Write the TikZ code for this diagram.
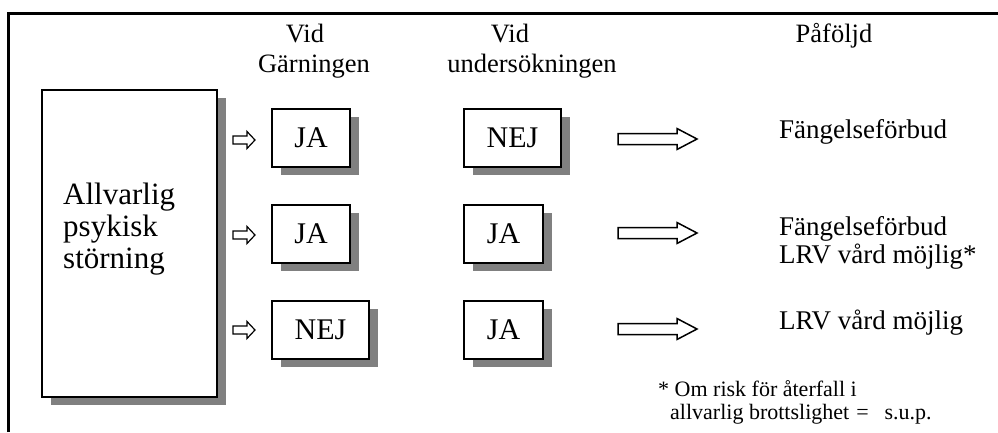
\documentclass[tikz,border=0pt]{standalone}
\usepackage{fontspec}
\setmainfont{Liberation Serif}
\usetikzlibrary{shadows}
\begin{document}
\begin{tikzpicture}[x=1pt,y=-1pt,
  box/.style={draw, line width=1.4pt, fill=white, inner sep=0pt, minimum height=58pt,
    font=\fontsize{30}{32}\selectfont,
    drop shadow={shadow xshift=8.5pt, shadow yshift=-7.5pt, fill=black!50, opacity=1}},
  head/.style={font=\fontsize{26.5}{30}\selectfont, anchor=base, inner sep=0pt},
  result/.style={font=\fontsize{27}{28}\selectfont, anchor=base west, inner sep=0pt},
  note/.style={font=\fontsize{22}{23}\selectfont, anchor=base west, inner sep=0pt},
  smallarrow/.pic={\draw[line width=1.2pt, line join=miter, fill=white]
     (-11,-4) -- (3,-4) -- (3,-8.5) -- (11,0) -- (3,8.5) -- (3,4) -- (-11,4) -- cycle;},
  bigarrow/.pic={\draw[line width=1.5pt, line join=miter, fill=white]
     (-39.5,-5.5) -- (19.5,-5.5) -- (19.5,-10.5) -- (39.5,0) -- (19.5,10.5) -- (19.5,5.5) -- (-39.5,5.5) -- cycle;}]
\useasboundingbox (0,0) rectangle (998,432);
% frame
\draw[line width=3pt, line join=miter] (8.5,432) -- (8.5,13.5) -- (998,13.5);
% headers
\node[head] (h1a) at (305,42) {Vid};
\node[head] (h1b) at (314,72) {Gärningen};
\node[head] (h2a) at (510,42) {Vid};
\node[head] (h2b) at (532,72) {undersökningen};
\node[head] (h3) at (834,42) {Påföljd};
% big box
\node[box, minimum width=175pt, minimum height=307pt] (main) at (129.5,243.5) {};
\node[anchor=base west, inner sep=0pt, align=left, font=\fontsize{31}{32}\selectfont] (maintext) at (63,268) {Allvarlig\\psykisk\\störning};
% row 1
\pic (sa1) at (244,140) {smallarrow};
\node[box, minimum width=78pt] (g1) at (311,138) {JA};
\node[box, minimum width=97pt] (u1) at (512.5,138) {NEJ};
\pic (ba1) at (657.5,139) {bigarrow};
\node[result] (r1) at (779,138) {Fängelseförbud};
% row 2
\pic (sa2) at (244,235) {smallarrow};
\node[box, minimum width=78pt] (g2) at (311,234) {JA};
\node[box, minimum width=79pt] (u2) at (503.5,234) {JA};
\pic (ba2) at (657.5,233) {bigarrow};
\node[result] (r2a) at (779,235) {Fängelseförbud};
\node[result] (r2b) at (779,263) {LRV vård möjlig*};
% row 3
\pic (sa3) at (244,330) {smallarrow};
\node[box, minimum width=97pt] (g3) at (320.5,330) {NEJ};
\node[box, minimum width=79pt] (u3) at (503.5,330) {JA};
\pic (ba3) at (657.5,329) {bigarrow};
\node[result] (r3) at (779,329) {LRV vård möjlig};
% footnote
\node[note] (n1) at (658,396) {* Om risk för återfall i};
\node[note] (n2) at (670,419) {allvarlig brottslighet\hspace{7pt}=\hspace{16pt}s.u.p.};
\end{tikzpicture}
\end{document}
